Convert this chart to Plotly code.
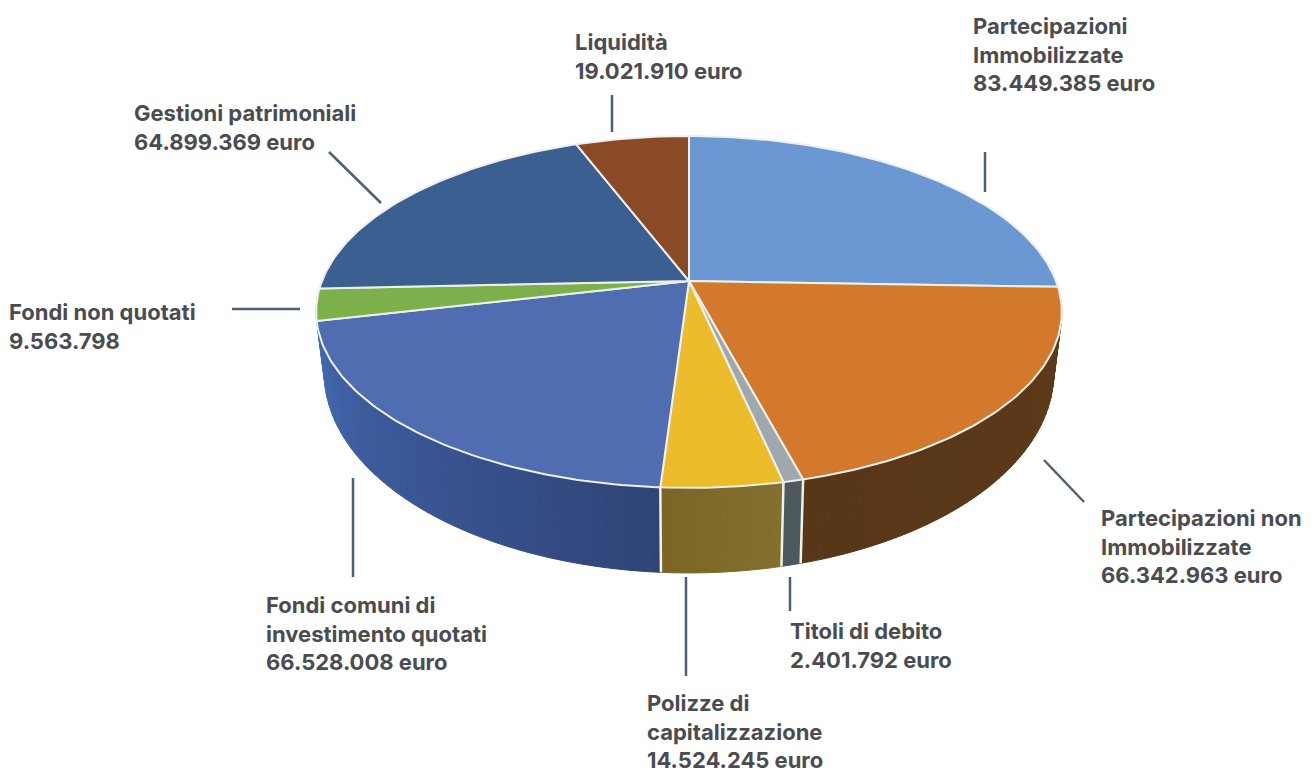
import numpy as np
import plotly.graph_objects as go

categories = ["Partecipazioni Immobilizzate", "Partecipazioni non Immobilizzate", "Titoli di debito",
              "Polizze di capitalizzazione", "Fondi comuni di investimento quotati", "Fondi non quotati",
              "Gestioni patrimoniali", "Liquidità"]
values = [83449385, 66342963, 2401792, 14524245, 66528008, 9563798, 64899369, 19021910]
top_colors = ["#6b98d3", "#d2792b", "#9fa8ae", "#ecbc2b", "#4f6db0", "#7cb04a", "#3a5f90", "#8a4a26"]
side_from = ["#4a6c9c", "#5c3a1a", "#4c5a60", "#85702e", "#2f4477", "#4468b0", "#2a4468", "#5a3018"]
side_to = ["#4a6c9c", "#583618", "#4c5a60", "#7a6528", "#4468b0", "#4468b0", "#2a4468", "#5a3018"]

label_text = ["Partecipazioni<br>Immobilizzate<br>83.449.385 euro",
              "Partecipazioni non<br>Immobilizzate<br>66.342.963 euro",
              "Titoli di debito<br>2.401.792 euro",
              "Polizze di<br>capitalizzazione<br>14.524.245 euro",
              "Fondi comuni di<br>investimento quotati<br>66.528.008 euro",
              "Fondi non quotati<br>9.563.798",
              "Gestioni patrimoniali<br>64.899.369 euro",
              "Liquidità<br>19.021.910 euro"]
label_x = [973, 1101, 790, 647, 266, 9, 134, 575]
label_y = [54, 546, 645, 731, 633, 326, 127, 56]

leader_x = [(985, 985), (1044, 1084), (790, 790), (686, 686), (353, 353), (232, 300), (329, 381), (612, 612)]
leader_y = [(152, 192), (460, 502), (577, 611), (577, 676), (478, 577), (309, 309), (152, 203), (95, 132)]

# Perspective view of the pie's top and bottom discs
CX = 689
TOP = dict(a=367.0, b=121.0, c=281.0, k=0.176)
BOT = dict(a=359.0, b=134.3, c=337.8, k=0.176)


def project(theta, disc, r=1.0):
    u, v = r * np.sin(theta), -r * np.cos(theta)
    d = 1 - disc["k"] * v
    return CX + disc["a"] * u / d, (disc["b"] * v + disc["c"]) / d


def rgb(h):
    return np.array([int(h[i:i + 2], 16) for i in (1, 3, 5)], dtype=float)


def mix(c1, c2, t):
    m = rgb(c1) * (1 - t) + rgb(c2) * t
    return "rgb(%d,%d,%d)" % tuple(m.round())


edges = np.concatenate([[0], np.cumsum(values)]) / np.sum(values) * 2 * np.pi
fig = go.Figure()


def poly(x, y, fill, line, width):
    fig.add_trace(go.Scatter(x=x, y=y, mode="lines", fill="toself", fillcolor=fill,
                             line=dict(color=line, width=width), hoverinfo="skip", showlegend=False))


# side wall, only the front part can be seen
for i in range(len(values)):
    a0, a1 = edges[i], edges[i + 1]
    lo, hi = max(a0, np.pi * 0.42), min(a1, np.pi * 1.58)
    if hi <= lo:
        continue
    n = max(1, int((hi - lo) / np.radians(1.5)))
    steps = np.linspace(lo, hi, n + 1)
    for s in range(n):
        t = np.linspace(steps[s], steps[s + 1], 4)
        xt, yt = project(t, TOP)
        xb, yb = project(t[::-1], BOT)
        col = mix(side_from[i], side_to[i], ((steps[s] + steps[s + 1]) / 2 - a0) / (a1 - a0))
        poly(list(xt) + list(xb) + [xt[0]], list(yt) + list(yb) + [yt[0]], col, col, 1)

# white edges between wall sections
for e in edges[1:-1]:
    if np.pi * 0.6 < e < np.pi * 1.4:
        xt, yt = project(e, TOP)
        xb, yb = project(e, BOT)
        fig.add_trace(go.Scatter(x=[xt, xb], y=[yt, yb], mode="lines",
                                 line=dict(color="#f4f1e6", width=2.5),
                                 hoverinfo="skip", showlegend=False))

# top face
for i in range(len(values)):
    t = np.linspace(edges[i], edges[i + 1], max(3, int((edges[i + 1] - edges[i]) / np.radians(1)) + 1))
    xs, ys = project(t, TOP)
    ax, ay = project(0.0, TOP, 0.0)
    poly([ax] + list(xs) + [ax], [ay] + list(ys) + [ay], top_colors[i], "#eef0ec", 2)

for lx, ly in zip(leader_x, leader_y):
    fig.add_trace(go.Scatter(x=list(lx), y=list(ly), mode="lines",
                             line=dict(color="#4f6076", width=2.5),
                             hoverinfo="skip", showlegend=False))

for txt, x, y in zip(label_text, label_x, label_y):
    fig.add_annotation(x=x, y=y, text="<b>" + txt + "</b>", showarrow=False, xanchor="left", yanchor="middle",
                       align="left", xshift=-2, font=dict(family="Inter", size=22, color="#4a4c50"))

fig.update_layout(width=1312, height=775, margin=dict(l=0, r=0, t=0, b=0), autosize=False,
                  paper_bgcolor="white", plot_bgcolor="white", showlegend=False,
                  xaxis=dict(range=[0, 1312], visible=False, fixedrange=True),
                  yaxis=dict(range=[775, 0], visible=False, fixedrange=True))
fig.write_html("out.html", config=dict(displayModeBar=False),
               post_script="document.body.style.margin='0';document.documentElement.style.overflow='hidden';")
